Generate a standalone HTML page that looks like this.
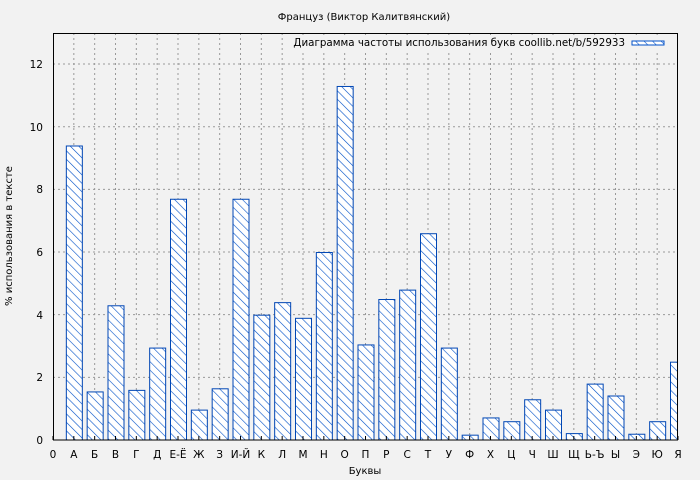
<!DOCTYPE html><html><head><meta charset="utf-8"><style>body{margin:0;background:#f2f2f2}svg{display:block;font-family:"DejaVu Sans","Liberation Sans",sans-serif}</style></head><body>
<svg id="s" width="700" height="480" xmlns="http://www.w3.org/2000/svg">
<defs><pattern id="h" patternUnits="userSpaceOnUse" width="6" height="6" patternTransform="rotate(-45)"><rect width="6" height="6" fill="#fff"/><line x1="0" y1="0" x2="0" y2="6" stroke="#0050c8" stroke-width="1.2"/></pattern>
<clipPath id="c"><rect x="53" y="33" width="625" height="407"/></clipPath></defs>
<rect width="700" height="480" fill="#f2f2f2"/>
<g id="grid" stroke="#999" stroke-dasharray="2,3" stroke-width="1"></g>
<g id="bars" clip-path="url(#c)"></g>
<rect x="53.5" y="33.5" width="624" height="406.5" fill="none" stroke="#000"/>
<text x="364" y="20" font-size="10" text-anchor="middle">Француз (Виктор Калитвянский)</text>
<rect x="285" y="36" width="390" height="14" fill="#f2f2f2"/>
<text x="625" y="46" font-size="10.3" text-anchor="end">Диаграмма частоты использования букв coollib.net/b/592933</text>
<rect x="632" y="41" width="32" height="4" fill="url(#h)" stroke="#0050c8"/>
<g font-size="10.5" text-anchor="end">
<text x="43" y="444">0</text><text x="43" y="381">2</text><text x="43" y="319">4</text><text x="43" y="256">6</text><text x="43" y="193">8</text><text x="43" y="131">10</text><text x="43" y="68">12</text></g>
<g id="xl" font-size="10.5" text-anchor="middle"></g>
<text x="365" y="474" font-size="10" text-anchor="middle">Буквы</text>
<text transform="translate(12,236) rotate(-90)" font-size="10" text-anchor="middle">% использования в тексте</text>
</svg>
<script>
var L="0 А Б В Г Д Е-Ё Ж З И-Й К Л М Н О П Р С Т У Ф Х Ц Ч Ш Щ Ь-Ъ Ы Э Ю Я".split(" ");
var V=[9.4,1.55,4.3,1.6,2.95,7.7,0.97,1.65,7.7,4.0,4.4,3.9,6.0,11.3,3.05,4.5,4.8,6.6,2.95,0.17,0.72,0.6,1.3,0.97,0.22,1.8,1.42,0.2,0.6,2.5];
var ns="http://www.w3.org/2000/svg",st=625/30,g=document.getElementById("grid"),b=document.getElementById("bars"),xl=document.getElementById("xl");
function el(t,a,p){var e=document.createElementNS(ns,t);for(var k in a)e.setAttribute(k,a[k]);p.appendChild(e);return e}
for(var i=1;i<30;i++){var x=53+i*st;el("line",{x1:x,x2:x,y1:33,y2:440},g)}
for(var v=2;v<=12;v+=2){var y=440-v*31.33;el("line",{x1:53,x2:678,y1:y,y2:y},g)}
for(var i=0;i<31;i++){var x=53+i*st;var t=el("text",{x:x,y:458},xl);t.textContent=L[i];el("line",{x1:x,x2:x,y1:440,y2:436,stroke:"#000"},xl)}
for(var i=0;i<30;i++){var x=53+(i+1)*st,h=V[i]*31.33;el("rect",{x:x-8+0.5,y:440-h+0.5,width:16,height:h,fill:"url(#h)",stroke:"#0046b4","stroke-width":1},b)}
</script></body></html>
